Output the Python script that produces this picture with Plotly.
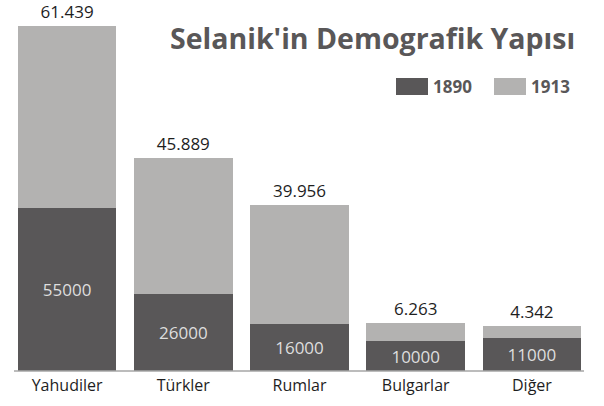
import plotly.graph_objects as go

categories = ["Yahudiler", "Türkler", "Rumlar", "Bulgarlar", "Diğer"]
values_1890 = [55000, 26000, 16000, 10000, 11000]
values_1913 = [61439, 45889, 39956, 6263, 4342]
series_names = ["1890", "1913"]
title_text = "Selanik'in Demografik Yapısı"

DARK = "#595758"
LIGHT = "#b3b2b1"
FONT = "Open Sans, Noto Sans, sans-serif"

# plot-area geometry (pixels)
PL, PR, PT, PB = 9, 14, 26, 35
PW = 604 - PL - PR
PH = 406 - PT - PB


def tr_thousands(v):
    return f"{v:,}".replace(",", ".")


fig = go.Figure()
fig.add_trace(go.Bar(
    x=categories, y=values_1890, name=series_names[0],
    marker=dict(color=DARK, line=dict(width=0)),
    text=[str(v) for v in values_1890], textposition="inside",
    insidetextanchor="middle",
    textfont=dict(family=FONT, size=17, color="#dedede"),
    showlegend=False, cliponaxis=False,
))
fig.add_trace(go.Bar(
    x=categories, y=values_1913, name=series_names[1],
    marker=dict(color=LIGHT, line=dict(width=0)),
    text=[tr_thousands(v) for v in values_1913], textposition="outside",
    textfont=dict(family=FONT, size=17, color="#1e1e1e"),
    showlegend=False, cliponaxis=False,
))

total_max = max(a + b for a, b in zip(values_1890, values_1913))

fig.update_layout(
    width=604, height=406,
    margin=dict(l=PL, r=PR, t=PT, b=PB, autoexpand=False),
    barmode="stack", bargap=0.15,
    paper_bgcolor="white", plot_bgcolor="white",
    font=dict(family=FONT, color="#222222"),
    xaxis=dict(showgrid=False, zeroline=False, showline=False,
               ticks="", ticklabelstandoff=3,
               tickfont=dict(family=FONT, size=16, color="#1e1e1e")),
    yaxis=dict(range=[0, total_max], visible=False, showgrid=False),
    uniformtext=dict(mode="show", minsize=10),
)

# baseline
fig.add_shape(type="line", xref="paper", yref="paper",
              x0=(14 - PL) / PW, x1=(584 - PL) / PW,
              y0=0, y1=0, line=dict(color="#a6a6a6", width=1.5))

# title
fig.add_annotation(text=f"<b>{title_text}</b>", xref="paper", yref="paper",
                   x=(577 - PL) / PW, y=(371 - 38) / PH,
                   xanchor="right", yanchor="middle", showarrow=False,
                   font=dict(family=FONT, size=28.5, color="#595758"))

# manual legend
legend_items = [(series_names[0], DARK, 396), (series_names[1], LIGHT, 494)]
for name, col, px in legend_items:
    fig.add_shape(type="rect", xref="paper", yref="paper",
                  x0=(px - PL) / PW, x1=(px + 32 - PL) / PW,
                  y0=(371 - 95) / PH, y1=(371 - 78) / PH,
                  fillcolor=col, line=dict(width=0))
    fig.add_annotation(text=f"<b>{name}</b>", xref="paper", yref="paper",
                       x=(px + 35 - PL) / PW, y=(371 - 86.5) / PH,
                       xanchor="left", yanchor="middle", showarrow=False,
                       font=dict(family=FONT, size=17, color="#595758"))

fig.write_html("out.html", config={"displayModeBar": False},
               post_script="document.body.style.margin='0px';")
